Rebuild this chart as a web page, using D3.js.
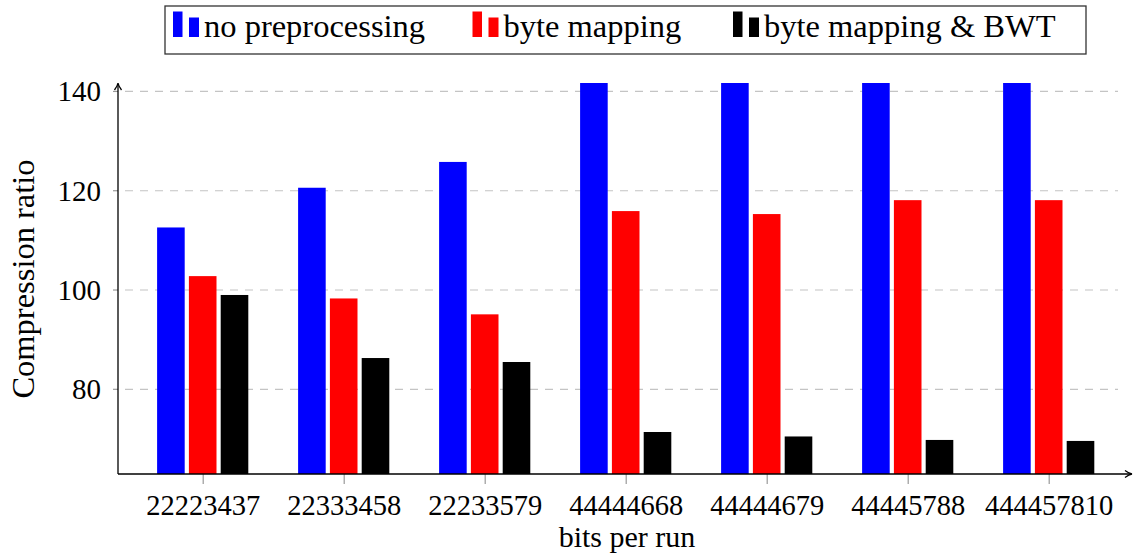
<!DOCTYPE html>
<html><head><meta charset="utf-8">
<script src="https://cdn.jsdelivr.net/npm/d3@7"></script>
<style>
html,body{margin:0;padding:0;background:#fff;}
</style></head>
<body>
<svg id="chart" width="1148" height="554"></svg>
<script>
const categories = ["22223437","22333458","22233579","44444668","44444679","44445788","444457810"];
const noPreprocessing = [112.5,120.5,125.7,150,150,150,150];
const byteMapping = [102.7,98.2,95.0,115.8,115.2,118.0,118.0];
const byteMappingBWT = [98.9,86.2,85.4,71.3,70.4,69.7,69.5];
const seriesNames = ["no preprocessing","byte mapping","byte mapping & BWT"];
const seriesColors = ["#0000ff","#ff0000","#000000"];
const yTicks = [80,100,120,140];

(function(){
const FONT = "'Liberation Serif', 'DejaVu Serif', serif";
const series = [noPreprocessing, byteMapping, byteMappingBWT];
const svg = d3.select("#chart");
const pL = 118, pR = 1118, pT = 83, pB = 474;

const x = d3.scalePoint().domain(categories).range([202.7, 1048.7]);
const y = d3.scaleLinear().domain([62.84, 141.6]).range([pB, pT]);
const offsets = [-31.8, 0, 31.8];
const barW = 27.6;

svg.append("defs").append("clipPath").attr("id","plotclip")
  .append("rect").attr("x", pL).attr("y", pT).attr("width", pR-pL+20).attr("height", pB-pT);

// grid
const grid = svg.append("g").attr("transform",`translate(${pL},0)`)
  .call(d3.axisLeft(y).tickValues(yTicks).tickSize(-(pR-pL)).tickFormat(""));
grid.select(".domain").remove();
grid.selectAll("line").attr("stroke","#c4c4c4").attr("stroke-width",1.2).attr("stroke-dasharray","8,7").attr("stroke-dashoffset", -7);

// bars
const bars = svg.append("g").attr("clip-path","url(#plotclip)");
series.forEach((vals, si) => {
  bars.selectAll(null).data(vals).enter().append("rect")
    .attr("x", (d,i) => x(categories[i]) + offsets[si] - barW/2)
    .attr("y", d => y(d))
    .attr("width", barW)
    .attr("height", d => y(y.domain()[0]) - y(d))
    .attr("fill", seriesColors[si]);
});

// y axis ticks & labels
const yAx = svg.append("g").attr("transform",`translate(${pL},0)`)
  .call(d3.axisLeft(y).tickValues(yTicks).tickSize(5).tickPadding(0));
yAx.attr("font-family", null).attr("font-size", null);
yAx.select(".domain").remove();
yAx.selectAll("line").attr("stroke","#999").attr("stroke-width",1.2);
yAx.selectAll("text").attr("x",-17).attr("dy",null).attr("y",10).attr("fill","#000")
  .style("font-family", FONT).style("font-size","29px");

// x axis ticks & labels
const xAx = svg.append("g").attr("transform",`translate(0,${pB})`)
  .call(d3.axisBottom(x).tickSize(10).tickPadding(0));
xAx.attr("font-family", null).attr("font-size", null);
xAx.select(".domain").remove();
xAx.selectAll("line").attr("stroke","#999").attr("stroke-width",1.2);
xAx.selectAll("text").attr("dy",null).attr("y",41).attr("fill","#000")
  .style("font-family", FONT).style("font-size","28.5px");

// axis lines with arrows
const ax = svg.append("g").attr("fill","none").attr("stroke","#000").attr("stroke-width",1.3);
ax.append("line").attr("x1",pL).attr("y1",pB).attr("x2",pL).attr("y2",pT+1);
ax.append("path").attr("d",`M${pL-3.5},${pT+7} Q${pL-0.5},${pT+3} ${pL},${pT} Q${pL+0.5},${pT+3} ${pL+3.5},${pT+7}`);
ax.append("line").attr("x1",pL).attr("y1",pB).attr("x2",1131).attr("y2",pB);
ax.append("path").attr("d",`M1125,${pB-3.5} Q1129,${pB-0.5} 1132,${pB} Q1129,${pB+0.5} 1125,${pB+3.5}`);

// axis titles
svg.append("text").style("font-family",FONT).style("font-size","30px").attr("x",627).attr("y",547).attr("text-anchor","middle").text("bits per run");
svg.append("text").style("font-family",FONT).style("font-size","32.5px").attr("transform","translate(34,279) rotate(-90)").attr("text-anchor","middle").text("Compression ratio");

// legend
const lg = svg.append("g");
lg.append("rect").attr("x",165).attr("y",6).attr("width",921).attr("height",48)
  .attr("fill","#fff").attr("stroke","#333").attr("stroke-width",1.3);
const legendX = [173, 472.5, 733];
seriesNames.forEach((name, i) => {
  const g = lg.append("g").attr("transform",`translate(${legendX[i]},0)`);
  g.append("rect").attr("x",0).attr("y",11.5).attr("width",9.5).attr("height",25.5).attr("fill",seriesColors[i]);
  g.append("rect").attr("x",16).attr("y",17.5).attr("width",10).attr("height",19.5).attr("fill",seriesColors[i]);
  g.append("text").style("font-family",FONT).style("font-size","32.5px").attr("x",31).attr("y",37).text(name);
});
})();
</script>
</body></html>
